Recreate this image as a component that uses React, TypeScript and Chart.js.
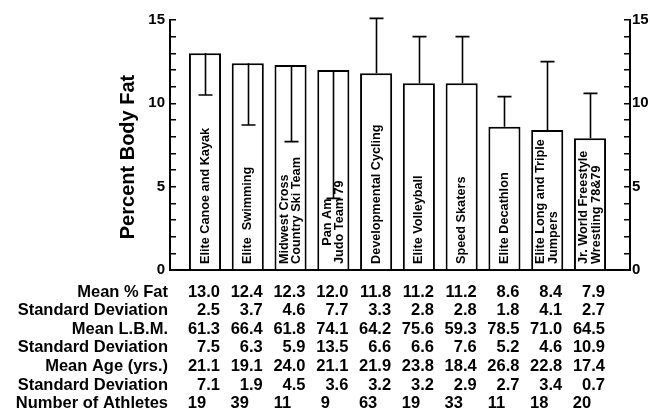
import React, { useEffect, useRef } from 'react';
import { Chart, registerables } from 'chart.js';

Chart.register(...registerables);

const categories: string[][] = [
  ['Elite Canoe and Kayak'],
  ['Elite  Swimming'],
  ['Midwest Cross', 'Country Ski Team'],
  ['Pan Am', 'Judo Team 79'],
  ['Developmental Cycling'],
  ['Elite Volleyball'],
  ['Speed Skaters'],
  ['Elite Decathlon'],
  ['Elite Long and Triple', 'Jumpers'],
  ['Jr. World Freestyle', 'Wrestling 78&79'],
];

const meanFat = [13.0, 12.4, 12.3, 12.0, 11.8, 11.2, 11.2, 8.6, 8.4, 7.9];
const sdFat = [2.5, 3.7, 4.6, 7.7, 3.3, 2.8, 2.8, 1.8, 4.1, 2.7];
const errorDirection = [-1, -1, -1, -1, 1, 1, 1, 1, 1, 1];
const meanLBM = [61.3, 66.4, 61.8, 74.1, 64.2, 75.6, 59.3, 78.5, 71.0, 64.5];
const sdLBM = [7.5, 6.3, 5.9, 13.5, 6.6, 6.6, 7.6, 5.2, 4.6, 10.9];
const meanAge = [21.1, 19.1, 24.0, 21.1, 21.9, 23.8, 18.4, 26.8, 22.8, 17.4];
const sdAge = [7.1, 1.9, 4.5, 3.6, 3.2, 3.2, 2.9, 2.7, 3.4, 0.7];
const athletes = [19, 39, 11, 9, 63, 19, 33, 11, 18, 20];

const rowLabels = [
  'Mean % Fat',
  'Standard Deviation',
  'Mean L.B.M.',
  'Standard Deviation',
  'Mean Age (yrs.)',
  'Standard Deviation',
  'Number of Athletes',
];
const tableRows: number[][] = [meanFat, sdFat, meanLBM, sdLBM, meanAge, sdAge, athletes];

const yTitle = 'Percent Body Fat';
const yMin = 0;
const yMax = 15;
const yMajorStep = 5;

const FONT = '"Liberation Sans", Arial, Helvetica, sans-serif';

const overlayPlugin = {
  id: 'overlay',
  afterDatasetsDraw(chart: any) {
    const { ctx, chartArea } = chart;
    const xs = chart.scales.x;
    const ys = chart.scales.y;
    ctx.save();

    // error bars
    ctx.strokeStyle = '#000';
    ctx.lineWidth = 1.6;
    meanFat.forEach((m, i) => {
      const px = Math.round(xs.getPixelForValue(i)) + 0.5;
      const y0 = ys.getPixelForValue(m);
      const y1 = ys.getPixelForValue(m + errorDirection[i] * sdFat[i]);
      ctx.beginPath();
      ctx.moveTo(px, y0);
      ctx.lineTo(px, y1);
      ctx.moveTo(px - 7, y1);
      ctx.lineTo(px + 7, y1);
      ctx.stroke();
    });

    // rotated bar labels
    ctx.fillStyle = '#000';
    ctx.font = `bold 12.7px ${FONT}`;
    const base = ys.getPixelForValue(0) - 6;
    categories.forEach((lines, i) => {
      const px = xs.getPixelForValue(i);
      const n = lines.length;
      const widths = lines.map((l) => ctx.measureText(l).width);
      const maxW = Math.max(...widths);
      lines.forEach((line, j) => {
        const off = (j - (n - 1) / 2) * 12.5;
        // short first line of a two-line label is centred on the longer line
        const shift = j === 0 && n > 1 && widths[0] < maxW * 0.6 ? (maxW - widths[0]) / 2 : 0;
        ctx.save();
        ctx.translate(px + off, base - shift);
        ctx.rotate(-Math.PI / 2);
        ctx.textAlign = 'left';
        ctx.textBaseline = 'middle';
        ctx.fillText(line, 0, 0);
        ctx.restore();
      });
    });

    // y axis title
    ctx.save();
    ctx.font = `bold 20px ${FONT}`;
    ctx.translate(chartArea.left - 42, (chartArea.top + chartArea.bottom) / 2 + 12);
    ctx.rotate(-Math.PI / 2);
    ctx.textAlign = 'center';
    ctx.textBaseline = 'middle';
    ctx.fillText(yTitle, 0, 0);
    ctx.restore();

    // data table
    ctx.font = `bold 16.5px ${FONT}`;
    ctx.textBaseline = 'middle';
    const top = ys.getPixelForValue(0) + 22;
    rowLabels.forEach((label, r) => {
      const ry = top + r * 18.6;
      ctx.textAlign = 'right';
      ctx.fillText(label, chartArea.left - 2, ry);
      tableRows[r].forEach((v, i) => {
        const px = xs.getPixelForValue(i);
        if (r < 6) {
          ctx.textAlign = 'right';
          ctx.fillText(v.toFixed(1), px + 15, ry);
        } else {
          ctx.textAlign = 'center';
          ctx.fillText(String(v), px - 8, ry);
        }
      });
    });

    ctx.restore();
  },
};

const yAxis = (position: 'left' | 'right', padding: number, width: number) => ({
  type: 'linear' as const,
  position,
  min: yMin,
  max: yMax,
  ticks: {
    stepSize: 1,
    autoSkip: false,
    padding,
    color: '#000',
    font: { family: FONT, weight: 'bold' as const, size: 15 },
    callback: (v: any) => (Number(v) % yMajorStep === 0 ? String(v) : ''),
  },
  grid: {
    drawOnChartArea: false,
    drawTicks: true,
    tickLength: -6,
    color: '#000',
    lineWidth: 1.5,
  },
  border: { display: true, color: '#000', width: 2 },
  afterFit: (s: any) => {
    s.width = width;
  },
});

export default function App() {
  const ref = useRef<HTMLCanvasElement | null>(null);

  useEffect(() => {
    if (!ref.current) return;
    const chart = new Chart(ref.current, {
      type: 'bar',
      data: {
        datasets: [
          {
            data: meanFat.map((v, i) => ({ x: i, y: v })),
            backgroundColor: '#fff',
            borderColor: '#000',
            borderWidth: 2,
            barPercentage: 0.75,
            categoryPercentage: 1,
          } as any,
        ],
      },
      options: {
        animation: false,
        responsive: false,
        maintainAspectRatio: false,
        layout: { padding: { top: 15, bottom: 141, left: 0, right: 0 } },
        plugins: { legend: { display: false }, tooltip: { enabled: false } },
        scales: {
          x: {
            type: 'linear',
            offset: false,
            min: -0.818,
            max: 9.935,
            ticks: { display: false },
            grid: { display: false, drawTicks: false, offset: false },
            border: { display: true, color: '#000', width: 2 },
            afterFit: (s: any) => {
              s.height = 0;
            },
          },
          y: yAxis('left', 11, 170) as any,
          y2: yAxis('right', 8, 20) as any,
        },
      },
      plugins: [overlayPlugin],
    });
    return () => chart.destroy();
  }, []);

  return (
    <div style={{ position: 'fixed', left: 0, top: 0, width: 650, height: 411, background: '#fff' }}>
      <canvas ref={ref} width={650} height={411} />
    </div>
  );
}
